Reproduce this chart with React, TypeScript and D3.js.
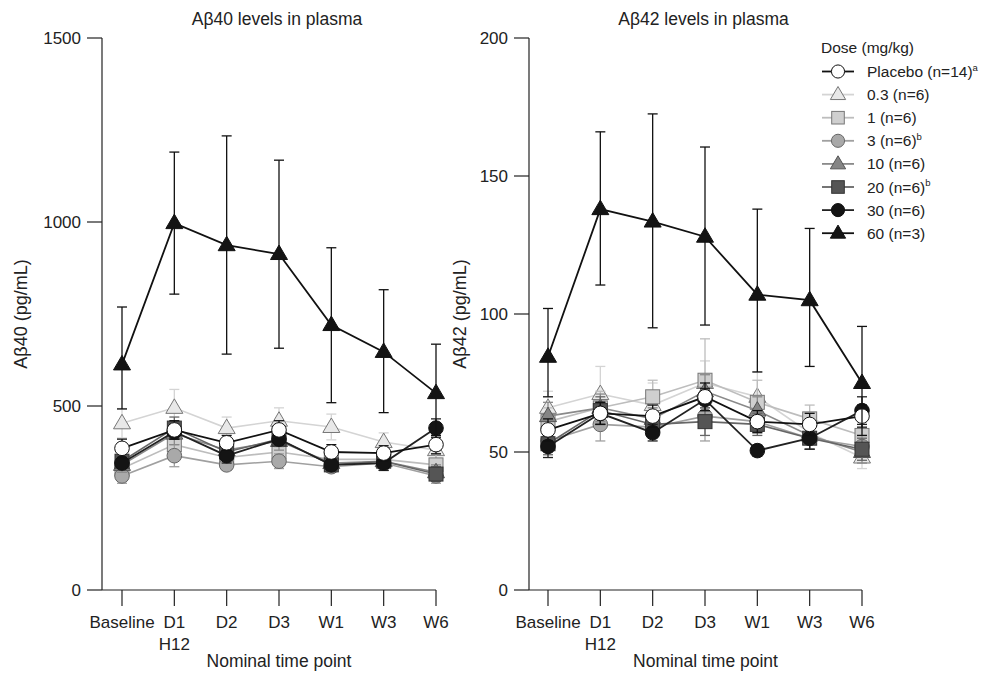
import React from "react";
import * as d3 from "d3";

const categories = ["Baseline", "D1", "D2", "D3", "W1", "W3", "W6"];
const ab40Ticks = [0, 500, 1000, 1500];
const ab42Ticks = [0, 50, 100, 150, 200];

const seriesNames = ["0.3", "1", "3", "10", "20", "30", "Placebo", "60"];

// Aβ40 (pg/mL)
const ab40_placebo = [385, 435, 400, 435, 375, 372, 395];
const ab40_placebo_err = [25, 25, 20, 25, 20, 20, 25];
const ab40_03 = [453, 495, 440, 460, 443, 402, 380];
const ab40_03_err = [40, 50, 30, 35, 35, 25, 30];
const ab40_1 = [330, 395, 360, 375, 355, 355, 340];
const ab40_1_err = [30, 35, 25, 30, 25, 30, 30];
const ab40_3 = [310, 365, 340, 350, 335, 345, 310];
const ab40_3_err = [20, 30, 15, 20, 15, 20, 20];
const ab40_10 = [340, 425, 380, 405, 345, 350, 320];
const ab40_10_err = [20, 30, 20, 25, 20, 25, 20];
const ab40_20 = [350, 440, 375, 410, 340, 350, 315];
const ab40_20_err = [15, 30, 20, 20, 15, 20, 20];
const ab40_30 = [345, 430, 365, 410, 340, 345, 440];
const ab40_30_err = [15, 20, 20, 15, 15, 20, 25];
const ab40_60 = [613, 997, 937, 913, 720, 647, 535];
const ab40_60_hi = [769, 1190, 1234, 1168, 930, 816, 668];
const ab40_60_lo = [492, 804, 641, 657, 509, 482, 420];

// Aβ42 (pg/mL)
const ab42_placebo = [58, 64, 63, 70, 61, 60, 63];
const ab42_placebo_err = [4, 4, 4, 5, 4, 4, 4];
const ab42_03 = [66, 71, 67, 75, 70, 57, 48];
const ab42_03_err = [6, 10, 8, 8, 9, 6, 4];
const ab42_1 = [61, 66, 70, 76, 68, 62, 56];
const ab42_1_err = [5, 6, 6, 15, 8, 5, 5];
const ab42_3 = [54, 60, 59, 63, 61, 55, 52];
const ab42_3_err = [4, 6, 4, 9, 4, 4, 4];
const ab42_10 = [63, 66, 62, 72, 65, 56, 50];
const ab42_10_err = [5, 5, 4, 6, 5, 5, 4];
const ab42_20 = [53, 65, 60, 61, 60, 55, 51];
const ab42_20_err = [4, 5, 4, 5, 4, 4, 4];
const ab42_30 = [52, 64, 57, 69, 50.5, 55, 65];
const ab42_30_err = [4, 4, 3, 4, 2, 4, 5];
const ab42_60 = [84.5, 138, 133.5, 128, 107, 105, 75];
const ab42_60_hi = [102, 166, 172.5, 160.5, 138, 131, 95.5];
const ab42_60_lo = [70, 110.5, 95, 96, 79, 81, 56];

type Style = { shape: string; fill: string; stroke: string; line: string };
const styles: Record<string, Style> = {
  Placebo: { shape: "circle", fill: "#ffffff", stroke: "#111", line: "#111" },
  "0.3": { shape: "triangle", fill: "#e8e8e8", stroke: "#777", line: "#d4d4d4" },
  "1": { shape: "square", fill: "#cfcfcf", stroke: "#777", line: "#bdbdbd" },
  "3": { shape: "circle", fill: "#a9a9a9", stroke: "#666", line: "#a0a0a0" },
  "10": { shape: "triangle", fill: "#858585", stroke: "#555", line: "#8a8a8a" },
  "20": { shape: "square", fill: "#555555", stroke: "#333", line: "#666" },
  "30": { shape: "circle", fill: "#141414", stroke: "#111", line: "#222" },
  "60": { shape: "triangle", fill: "#141414", stroke: "#111", line: "#111" },
};

const legendEntries = [
  { key: "Placebo", label: "Placebo (n=14)", sup: "a" },
  { key: "0.3", label: "0.3 (n=6)", sup: "" },
  { key: "1", label: "1 (n=6)", sup: "" },
  { key: "3", label: "3 (n=6)", sup: "b" },
  { key: "10", label: "10 (n=6)", sup: "" },
  { key: "20", label: "20 (n=6)", sup: "b" },
  { key: "30", label: "30 (n=6)", sup: "" },
  { key: "60", label: "60 (n=3)", sup: "" },
];

function sym(v: number[], e: number[]) {
  return { v, lo: v.map((x, i) => x - e[i]), hi: v.map((x, i) => x + e[i]) };
}

const ab40Data: Record<string, { v: number[]; lo: number[]; hi: number[] }> = {
  "0.3": sym(ab40_03, ab40_03_err),
  "1": sym(ab40_1, ab40_1_err),
  "3": sym(ab40_3, ab40_3_err),
  "10": sym(ab40_10, ab40_10_err),
  "20": sym(ab40_20, ab40_20_err),
  "30": sym(ab40_30, ab40_30_err),
  Placebo: sym(ab40_placebo, ab40_placebo_err),
  "60": { v: ab40_60, lo: ab40_60_lo, hi: ab40_60_hi },
};
const ab42Data: Record<string, { v: number[]; lo: number[]; hi: number[] }> = {
  "0.3": sym(ab42_03, ab42_03_err),
  "1": sym(ab42_1, ab42_1_err),
  "3": sym(ab42_3, ab42_3_err),
  "10": sym(ab42_10, ab42_10_err),
  "20": sym(ab42_20, ab42_20_err),
  "30": sym(ab42_30, ab42_30_err),
  Placebo: sym(ab42_placebo, ab42_placebo_err),
  "60": { v: ab42_60, lo: ab42_60_lo, hi: ab42_60_hi },
};

const FONT = "'Liberation Sans', Arial, Helvetica, sans-serif";
const TXT = "#222";

function Marker({ shape, x, y, fill, stroke, size = 1 }: any) {
  if (shape === "circle") {
    return <circle cx={x} cy={y} r={7.3 * size} fill={fill} stroke={stroke} strokeWidth={1} />;
  }
  if (shape === "square") {
    const s = 14 * size;
    return <rect x={x - s / 2} y={y - s / 2} width={s} height={s} fill={fill} stroke={stroke} strokeWidth={1} />;
  }
  const w = 17 * size;
  const h = 14.5 * size;
  const p = `M${x},${y - h * 0.62} L${x + w / 2},${y + h * 0.38} L${x - w / 2},${y + h * 0.38} Z`;
  return <path d={p} fill={fill} stroke={stroke} strokeWidth={1} />;
}

function Panel({ x0, xEnd, xFirst, yMax, ticks, data, title, yLabel, yLabelX }: any) {
  const x = d3.scalePoint<string>().domain(categories).range([xFirst, xEnd]);
  const y = d3.scaleLinear().domain([0, yMax]).range([590, 38]);
  const line = d3
    .line<number>()
    .x((_, i) => x(categories[i]) as number)
    .y((d) => y(d));
  const cap = 5;
  const mid = (x0 + xEnd) / 2;
  return (
    <g>
      <text x={mid + 8} y={25} textAnchor="middle" fontSize={17.5} fontFamily={FONT} fill={TXT}>
        {title}
      </text>
      {/* axes */}
      <line x1={x0} x2={x0} y1={y(yMax)} y2={y(0)} stroke="#222" strokeWidth={1.2} />
      <line x1={x0} x2={xEnd} y1={y(0)} y2={y(0)} stroke="#222" strokeWidth={1.2} />
      {ticks.map((t: number) => (
        <g key={t}>
          <line x1={x0 - 15} x2={x0} y1={y(t)} y2={y(t)} stroke="#222" strokeWidth={1.2} />
          <text x={x0 - 21} y={y(t) + 6} textAnchor="end" fontSize={17} fontFamily={FONT} fill={TXT}>
            {t}
          </text>
        </g>
      ))}
      {categories.map((c) => (
        <g key={c}>
          <line x1={x(c)} x2={x(c)} y1={y(0)} y2={y(0) + 16} stroke="#222" strokeWidth={1.2} />
          <text x={x(c)} y={628} textAnchor="middle" fontSize={17} fontFamily={FONT} fill={TXT}>
            {c}
          </text>
        </g>
      ))}
      <text x={x("D1")} y={650} textAnchor="middle" fontSize={17} fontFamily={FONT} fill={TXT}>
        H12
      </text>
      <text x={mid + 10} y={667} textAnchor="middle" fontSize={17.5} fontFamily={FONT} fill={TXT}>
        Nominal time point
      </text>
      <text
        transform={`translate(${yLabelX},${314}) rotate(-90)`}
        textAnchor="middle"
        fontSize={18}
        fontFamily={FONT}
        fill={TXT}
      >
        {yLabel}
      </text>
      {/* series */}
      {seriesNames.map((s) => {
        const st = styles[s];
        const d = data[s];
        return (
          <g key={s}>
            {d.v.map((v: number, i: number) => {
              const cx = x(categories[i]) as number;
              return (
                <g key={i}>
                  <line x1={cx} x2={cx} y1={y(d.lo[i])} y2={y(d.hi[i])} stroke={st.line} strokeWidth={1.3} />
                  <line x1={cx - cap} x2={cx + cap} y1={y(d.lo[i])} y2={y(d.lo[i])} stroke={st.line} strokeWidth={1.3} />
                  <line x1={cx - cap} x2={cx + cap} y1={y(d.hi[i])} y2={y(d.hi[i])} stroke={st.line} strokeWidth={1.3} />
                </g>
              );
            })}
            <path d={line(d.v) || ""} fill="none" stroke={st.line} strokeWidth={s === "60" || s === "Placebo" || s === "30" ? 1.8 : 1.6} />
            {d.v.map((v: number, i: number) => (
              <Marker key={i} shape={st.shape} x={x(categories[i])} y={y(v)} fill={st.fill} stroke={st.stroke} />
            ))}
          </g>
        );
      })}
    </g>
  );
}

function Legend() {
  const lx = 822;
  const ys = legendEntries.map((_, i) => 71.5 + i * 23.1);
  return (
    <g fontFamily={FONT} fontSize={15.5} fill={TXT}>
      <text x={lx - 1} y={53}>Dose (mg/kg)</text>
      {legendEntries.map((e, i) => {
        const st = styles[e.key];
        return (
          <g key={e.key}>
            <line x1={lx} x2={lx + 32} y1={ys[i]} y2={ys[i]} stroke={st.line} strokeWidth={1.8} />
            <Marker shape={st.shape} x={lx + 16} y={ys[i]} fill={st.fill} stroke={st.stroke} size={0.9} />
            <text x={lx + 45} y={ys[i] + 5.5}>
              {e.label}
              {e.sup ? (
                <tspan fontSize={9.5} dy={-6.5}>
                  {e.sup}
                </tspan>
              ) : null}
            </text>
          </g>
        );
      })}
    </g>
  );
}

export default function App() {
  return (
    <svg width={988} height={673} style={{ position: "absolute", left: 0, top: 0, background: "#fff" }}>
      <rect width={988} height={673} fill="#fff" />
      <Panel
        x0={102}
        xFirst={122}
        xEnd={436}
        yMax={1500}
        ticks={ab40Ticks}
        data={ab40Data}
        title="Aβ40 levels in plasma"
        yLabel="Aβ40 (pg/mL)"
        yLabelX={27}
      />
      <Panel
        x0={529}
        xFirst={548}
        xEnd={862}
        yMax={200}
        ticks={ab42Ticks}
        data={ab42Data}
        title="Aβ42 levels in plasma"
        yLabel="Aβ42 (pg/mL)"
        yLabelX={466}
      />
      <Legend />
    </svg>
  );
}
